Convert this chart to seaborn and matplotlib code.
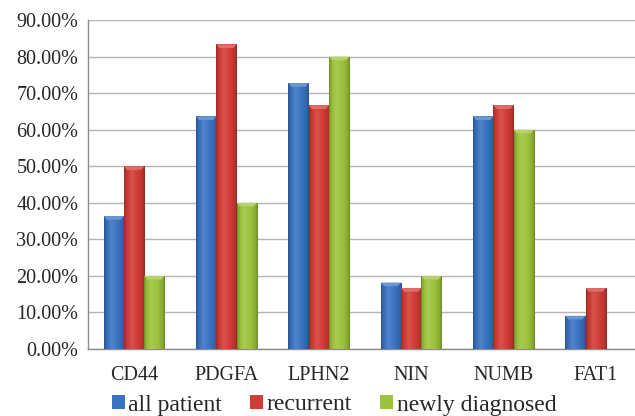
import numpy as np
import pandas as pd
import seaborn as sns
import matplotlib
matplotlib.use("Agg")
import matplotlib.pyplot as plt
from matplotlib.colors import to_rgb
from matplotlib.patches import Patch, Polygon

# Data (percent of patients)
genes = ["CD44", "PDGFA", "LPHN2", "NIN", "NUMB", "FAT1"]
series_names = ["all patient", "recurrent", "newly diagnosed"]
all_patient = [36.36, 63.64, 72.73, 18.18, 63.64, 9.09]
recurrent = [50.00, 83.33, 66.67, 16.67, 66.67, 16.67]
newly_diagnosed = [20.00, 40.00, 80.00, 20.00, 60.00, 0.00]
y_ticks = [0, 10, 20, 30, 40, 50, 60, 70, 80, 90]
colors = ["#3A73C2", "#D23C36", "#9DC33C"]

df = pd.DataFrame({
    "gene": genes * 3,
    "value": all_patient + recurrent + newly_diagnosed,
    "series": [s for s in series_names for _ in genes],
})

sns.set_style("white")
plt.rcParams["font.family"] = "serif"
plt.rcParams["font.serif"] = ["Liberation Serif"]

W, H = 635, 416
fig = plt.figure(figsize=(W / 100, H / 100), dpi=100)
ax = fig.add_axes([88 / W, 67 / H, (642 - 88) / W, (349 - 20) / H])

sns.barplot(data=df, x="gene", y="value", hue="series", hue_order=series_names,
            palette=colors, width=0.66, saturation=1, legend=False, ax=ax,
            linewidth=0, errorbar=None, zorder=3)


def mix(c, f):
    c = np.array(to_rgb(c))
    if f < 1:
        return c * f
    return c + (1 - c) * (f - 1)


# Cylinder-style shading and bevelled tops on every bar
xs = np.linspace(0, 1, 64)
profile = np.interp(xs, [0, 0.08, 0.35, 0.7, 0.92, 1], [0.7, 0.9, 1.12, 0.98, 0.85, 0.68])
for patch in list(ax.patches):
    h = patch.get_height()
    if h <= 0:
        continue
    x0 = patch.get_x()
    w = patch.get_width()
    base = patch.get_facecolor()[:3]
    grad = np.array([mix(base, f) for f in profile])[None, :, :]
    im = ax.imshow(grad, extent=[x0, x0 + w, 0, h], aspect="auto",
                   zorder=3.5, interpolation="bilinear")
    im.set_clip_path(patch)
    dy = 1.0
    dx = 0.035
    bevel = Polygon([(x0, h), (x0 + w, h), (x0 + w - dx, h - dy), (x0 + dx, h - dy)],
                    closed=True, facecolor=mix(base, 1.25), edgecolor="none", zorder=3.6)
    ax.add_patch(bevel)

serif = "Liberation Serif"
ax.set_xlim(-0.5, 5.5)
ax.set_ylim(0, 90)
ax.set_yticks(y_ticks)
ax.set_yticklabels([f"{v:.2f}%" for v in y_ticks], fontsize=14.5, family=serif)
ax.set_xticks(range(len(genes)))
ax.set_xticklabels(genes, fontsize=14.5, family=serif)
ax.set_xticks(np.arange(-0.5, 6.0, 1.0), minor=True)
ax.tick_params(axis="x", which="major", length=0, pad=12)
ax.tick_params(axis="x", which="minor", length=5, color="#8C8C8C", width=1, direction="out")
ax.tick_params(axis="y", which="major", length=5, color="#8C8C8C", width=1, direction="out", pad=2)
ax.set_xlabel("")
ax.set_ylabel("")

ax.yaxis.grid(True, color="#B4B4B4", linewidth=1)
ax.set_axisbelow(True)
for side in ["top", "right"]:
    ax.spines[side].set_visible(False)
for side in ["left", "bottom"]:
    ax.spines[side].set_color("#8C8C8C")
    ax.spines[side].set_linewidth(1)

handles = [Patch(facecolor=c, edgecolor="none") for c in colors]
fig.legend(handles, series_names, loc="center", bbox_to_anchor=(334 / W, 11 / H),
           ncol=3, frameon=False, prop={"family": serif, "size": 17},
           handlelength=0.55, handleheight=0.55, handletextpad=0.15, columnspacing=1.2)

fig.savefig("out.png", dpi=100, facecolor="white")
